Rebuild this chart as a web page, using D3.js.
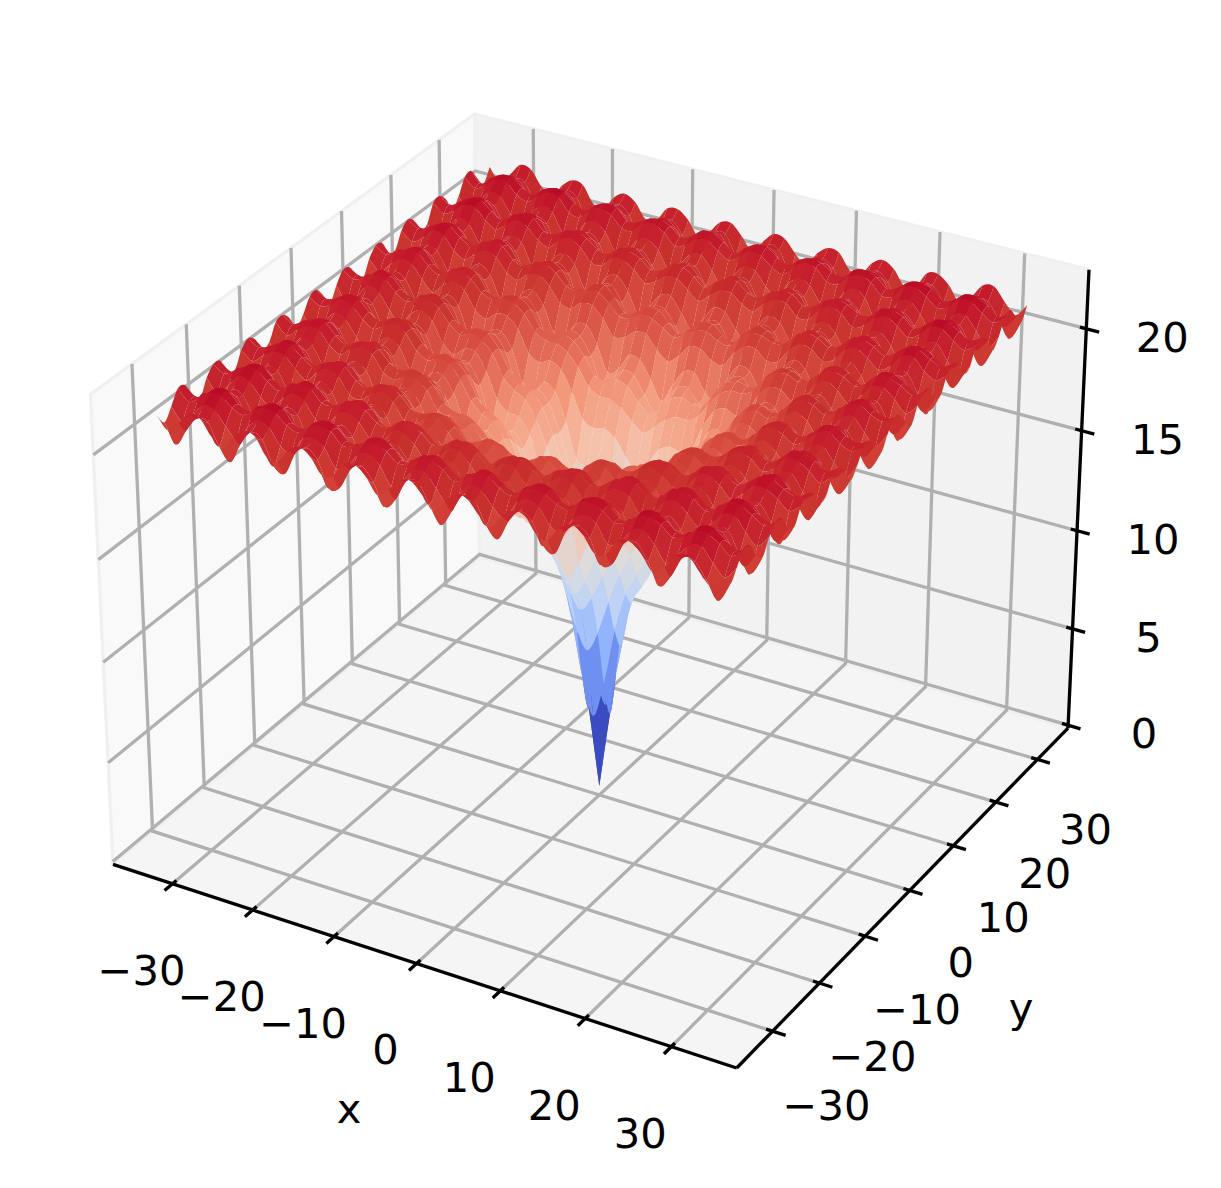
<!DOCTYPE html>
<html>
<head>
<meta charset="utf-8">
<style>
  html, body { margin: 0; background: #fff; }
  text { font-family: "DejaVu Sans", sans-serif; font-size: 41.67px; fill: #000; }
</style>
</head>
<body>
<svg id="chart" width="1221" height="1188"></svg>
<script src="https://cdn.jsdelivr.net/npm/d3@7"></script>
<script>
const xTicks = [-30, -20, -10, 0, 10, 20, 30];
const yTicks = [-30, -20, -10, 0, 10, 20, 30];
const zTicks = [0, 5, 10, 15, 20];
const boxLimit = [-37.5, 37.5];
const zLimit = [-0.15, 22.85];
const surfaceEdge = 32.768;

// coolwarm as seen in the picture, position in the facet range and colour
const colorPositions = [0, 0.125, 0.25, 0.375, 0.5, 0.625, 0.75, 0.85, 0.9, 0.94, 0.975, 1];
const colorStops = ['#3b4cc0', '#6282ea', '#8db0fe', '#c0d4f5', '#dddddd', '#f5c4ad', '#f4987a', '#de604d',
  '#d4463a', '#c8302d', '#c51c2d', '#ba0a26'];

// surface heights, one quadrant of the grid, row i holds j = 0..i. The rest is mirrored
// because the picture looks symmetric in x, y and about the diagonal.
// NOTE: these are not measured point by point. Most of the surface can't be read off the
// picture, so they are hand worked estimates: the shape looks like an Ackley function with
// cos(x) ripples, and that was worked through by hand and checked against the picture.
const zRows = [
  [0.3],
  [4.2, 6.0],
  [7.8, 8.8, 10.5],
  [10.1, 10.8, 12.0, 13.1],
  [11.1, 11.9, 13.1, 13.9, 14.0],
  [12.2, 13.1, 14.3, 14.8, 14.5, 14.7],
  [14.5, 15.1, 15.9, 16.2, 16.1, 16.4, 17.6],
  [16.2, 16.6, 17.1, 17.4, 17.4, 17.7, 18.5, 19.1],
  [16.9, 17.3, 17.9, 18.1, 17.9, 18.0, 18.8, 19.4, 19.6],
  [16.6, 17.4, 18.2, 18.3, 17.7, 17.4, 18.6, 19.4, 19.5, 18.8],
  [17.0, 17.9, 18.7, 18.8, 18.0, 17.7, 18.9, 19.7, 19.6, 18.8, 18.9],
  [18.7, 19.1, 19.7, 19.7, 19.3, 19.2, 19.9, 20.4, 20.4, 20.0, 20.1, 20.8],
  [19.6, 19.9, 20.2, 20.3, 20.0, 19.9, 20.4, 20.8, 20.8, 20.6, 20.7, 21.2, 21.5],
  [19.5, 19.9, 20.4, 20.4, 20.0, 19.8, 20.4, 20.9, 20.8, 20.4, 20.4, 21.1, 21.4, 21.2],
  [18.7, 19.5, 20.2, 20.2, 19.4, 18.9, 20.0, 20.7, 20.5, 19.6, 19.5, 20.7, 21.1, 20.8, 19.8],
  [19.2, 19.9, 20.6, 20.5, 19.8, 19.3, 20.3, 20.9, 20.7, 19.9, 19.8, 20.9, 21.3, 20.9, 20.1, 20.3],
  [20.4, 20.8, 21.2, 21.2, 20.8, 20.6, 21.1, 21.4, 21.4, 20.9, 20.9, 21.5, 21.8, 21.6, 21.1, 21.3, 21.8],
  [20.8, 21.2, 21.5, 21.5, 21.1, 21.0, 21.4, 21.6, 21.6, 21.2, 21.3, 21.7, 21.9, 21.8, 21.5, 21.5, 22.0, 22.1],
  [20.3, 20.9, 21.4, 21.3, 20.7, 20.5, 21.1, 21.5, 21.4, 20.8, 20.8, 21.4, 21.7, 21.5, 20.8, 21.0, 21.7, 21.9, 21.5],
  [19.4, 20.3, 21.1, 21.0, 20.1, 19.6, 20.6, 21.2, 21.0, 20.0, 19.8, 21.0, 21.4, 21.0, 20.0, 20.2, 21.3, 21.5, 21.0, 20.0],
  [20.1, 20.8, 21.4, 21.3, 20.7, 20.3, 21.1, 21.5, 21.3, 20.6, 20.5, 21.3, 21.7, 21.4, 20.5, 20.7, 21.6, 21.8, 21.3, 20.6, 21.0],
  [21.2, 21.5, 21.9, 21.8, 21.4, 21.2, 21.7, 22.0, 21.9, 21.4, 21.4, 21.9, 22.1, 21.9, 21.4, 21.5, 22.1, 22.2, 21.9, 21.5, 21.7, 22.2],
  [21.3, 21.7, 22.0, 22.0, 21.6, 21.4, 21.8, 22.0, 21.9, 21.6, 21.5, 22.0, 22.1, 21.9, 21.5, 21.7, 22.1, 22.2, 22.0, 21.6, 21.8, 22.2, 22.2],
  [20.5, 21.1, 21.7, 21.6, 21.0, 20.6, 21.4, 21.8, 21.6, 20.9, 20.7, 21.5, 21.8, 21.6, 20.8, 21.0, 21.7, 21.9, 21.4, 20.7, 21.2, 21.8, 21.9, 21.3],
  [19.8, 20.6, 21.5, 21.4, 20.4, 19.9, 20.9, 21.5, 21.2, 20.2, 20.0, 21.2, 21.6, 21.2, 20.1, 20.3, 21.4, 21.6, 20.9, 19.9, 20.5, 21.5, 21.5, 20.8, 20.0],
  [20.7, 21.3, 21.8, 21.7, 21.1, 20.7, 21.4, 21.8, 21.7, 21.0, 20.9, 21.6, 21.9, 21.6, 20.9, 21.0, 21.8, 21.9, 21.5, 20.8, 21.2, 21.9, 22.0, 21.4, 20.9, 21.5],
];

const svg = d3.select('#chart');
svg.append('rect').attr('width', 1221).attr('height', 1188).attr('fill', '#fff');

// same camera as a default mplot3d axes: elev 30, azim -60, dist 10
const ASPECT = [1.1906, 1.1906, 0.8929];
const DIST = 10;
const w = [0.433, -0.75, 0.5];
const u = [0.866, 0.5, 0];
const v = [w[1] * u[2] - w[2] * u[1], w[2] * u[0] - w[0] * u[2], w[0] * u[1] - w[1] * u[0]];
const eye = ASPECT.map((a, k) => a / 2 + DIST * w[k]);
const dot = (a, b) => a[0] * b[0] + a[1] * b[1] + a[2] * b[2];

const boxX = d3.scaleLinear().domain(boxLimit).range([0, ASPECT[0]]);
const boxY = d3.scaleLinear().domain(boxLimit).range([0, ASPECT[1]]);
const boxZ = d3.scaleLinear().domain(zLimit).range([0, ASPECT[2]]);

const view = function(x, y, z) {
  let q = [boxX(x) - eye[0], boxY(y) - eye[1], boxZ(z) - eye[2]];
  let zv = dot(w, q);
  return [dot(u, q) / -zv, dot(v, q) / -zv, zv];
};

const [xMin, xMax] = boxLimit;
const [yMin, yMax] = boxLimit;
const [zMin, zMax] = zLimit;

// pixel scales pinned on the box corners
const screenX = d3.scaleLinear()
  .domain([view(xMin, yMin, zMin)[0], view(xMax, yMax, zMin)[0]])
  .range([113, 1068]);
const screenY = d3.scaleLinear()
  .domain([view(xMax, yMin, zMin)[1], view(xMin, yMax, zMax)[1]])
  .range([1068, 114]);

const project = function(x, y, z) {
  let p = view(x, y, z);
  return [screenX(p[0]), screenY(p[1]), p[2]];
};

const polyline = (pts) => d3.line()(pts.map(p => project(p[0], p[1], p[2])));

// panes
const panes = svg.append('g');
const pane = function(pts, fill) {
  panes.append('path')
    .attr('d', polyline(pts) + 'Z')
    .attr('fill', fill)
    .attr('stroke', '#f0f0f0')
    .attr('stroke-width', 3.3)
    .attr('stroke-linejoin', 'round');
};
pane([[xMin, yMin, zMin], [xMin, yMax, zMin], [xMin, yMax, zMax], [xMin, yMin, zMax]], '#f9f9f9');
pane([[xMin, yMax, zMin], [xMax, yMax, zMin], [xMax, yMax, zMax], [xMin, yMax, zMax]], '#f2f2f2');
pane([[xMin, yMin, zMin], [xMax, yMin, zMin], [xMax, yMax, zMin], [xMin, yMax, zMin]], '#f5f5f5');

// grid
const grid = svg.append('g')
  .attr('fill', 'none')
  .attr('stroke', '#b0b0b0')
  .attr('stroke-width', 3.3);
xTicks.forEach(x => {
  grid.append('path').attr('d', polyline([[x, yMin, zMin], [x, yMax, zMin], [x, yMax, zMax]]));
});
yTicks.forEach(y => {
  grid.append('path').attr('d', polyline([[xMax, y, zMin], [xMin, y, zMin], [xMin, y, zMax]]));
});
zTicks.forEach(z => {
  grid.append('path').attr('d', polyline([[xMin, yMin, z], [xMin, yMax, z], [xMax, yMax, z]]));
});

// axes and ticks
const TICK_IN = 0.75;
const TICK_OUT = 1.5;
const axes = svg.append('g')
  .attr('fill', 'none')
  .attr('stroke', '#000')
  .attr('stroke-width', 3.3);
axes.append('path').attr('d', polyline([[xMin, yMin, zMin], [xMax, yMin, zMin]]));
axes.append('path').attr('d', polyline([[xMax, yMin, zMin], [xMax, yMax, zMin]]));
axes.append('path').attr('d', polyline([[xMax, yMax, zMin], [xMax, yMax, zMax]]));
xTicks.forEach(x => {
  axes.append('path').attr('d', polyline([[x, yMin + TICK_IN, zMin], [x, yMin - TICK_OUT, zMin]]));
});
yTicks.forEach(y => {
  axes.append('path').attr('d', polyline([[xMax - TICK_IN, y, zMin], [xMax + TICK_OUT, y, zMin]]));
});
zTicks.forEach(z => {
  axes.append('path').attr('d', polyline([[xMax - TICK_IN, yMax, z], [xMax + TICK_OUT, yMax, z]]));
});

// surface
const N = zRows.length - 1;
const coord = d3.scaleLinear().domain([-N, N]).range([-surfaceEdge, surfaceEdge]);
const heightAt = function(a, b) {
  let i = Math.max(Math.abs(a), Math.abs(b));
  let j = Math.min(Math.abs(a), Math.abs(b));
  return zRows[i][j];
};
const clampIdx = (k) => Math.max(-N, Math.min(N, k));
const vertex = (a, b) => project(coord(a), coord(b), heightAt(a, b));
const isTip = (a, b) => a === 0 && b === 0;

// one facet edge, curved through the neighbouring grid points. The pit tip stays a cusp.
const edgeTo = function(path, a1, b1, a2, b2) {
  let da = a2 - a1;
  let db = b2 - b1;
  let p0 = vertex(clampIdx(a1 - da), clampIdx(b1 - db));
  let p1 = vertex(a1, b1);
  let p2 = vertex(a2, b2);
  let p3 = vertex(clampIdx(a2 + da), clampIdx(b2 + db));
  let c1 = isTip(a1, b1) ? p1 : [p1[0] + (p2[0] - p0[0]) / 6, p1[1] + (p2[1] - p0[1]) / 6];
  let c2 = isTip(a2, b2) ? p2 : [p2[0] - (p3[0] - p1[0]) / 6, p2[1] - (p3[1] - p1[1]) / 6];
  path.bezierCurveTo(c1[0], c1[1], c2[0], c2[1], p2[0], p2[1]);
};

const facets = [];
d3.range(-N, N).forEach(a => {
  d3.range(-N, N).forEach(b => {
    let corners = [[a, b], [a + 1, b], [a + 1, b + 1], [a, b + 1]];
    let start = vertex(a, b);
    let path = d3.path();
    path.moveTo(start[0], start[1]);
    corners.forEach((c, k) => {
      let next = corners[(k + 1) % 4];
      edgeTo(path, c[0], c[1], next[0], next[1]);
    });
    path.closePath();
    facets.push({
      d: path.toString(),
      mean: d3.mean(corners, c => heightAt(c[0], c[1])),
      depth: d3.mean(corners, c => vertex(c[0], c[1])[2]),
    });
  });
});
facets.sort((f1, f2) => d3.ascending(f1.depth, f2.depth));

const [meanMin, meanMax] = d3.extent(facets, f => f.mean);
const color = d3.scaleLinear()
  .domain(colorPositions.map(t => meanMin + (meanMax - meanMin) * t))
  .range(colorStops);

svg.append('g').selectAll('path')
  .data(facets)
  .join('path')
  .attr('d', f => f.d)
  .attr('fill', f => color(f.mean));

// labels
const labels = svg.append('g')
  .attr('text-anchor', 'middle');
const tickText = d3.format('d');
const yLabelDx = d3.scaleLinear().domain([-30, 30]).range([54, 48]);
const yLabelDy = d3.scaleLinear().domain([-30, 30]).range([74, 70]);
const putLabel = function(pos, dx, dy, txt) {
  labels.append('text')
    .attr('x', pos[0] + dx)
    .attr('y', pos[1] + dy)
    .attr('dy', '0.36em')
    .text(txt);
};
xTicks.forEach(x => putLabel(project(x, yMin, zMin), -31, 86, tickText(x).replace('-', '\u2212')));
yTicks.forEach(y => putLabel(project(xMax, y, zMin), yLabelDx(y), yLabelDy(y), tickText(y).replace('-', '\u2212')));
zTicks.forEach(z => putLabel(project(xMax, yMax, z), 76, 8, tickText(z)));
putLabel([349, 1108], 0, 0, 'x');
putLabel([1021, 1007], 0, 0, 'y');
</script>
</body>
</html>
